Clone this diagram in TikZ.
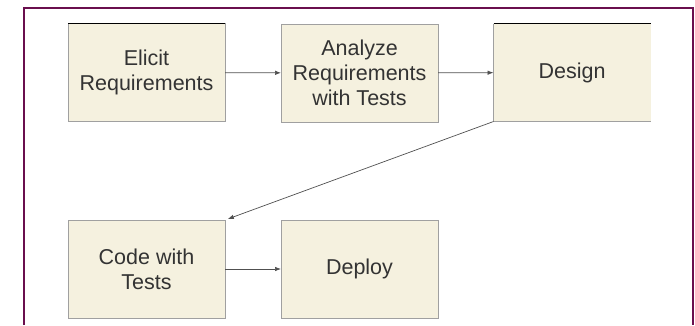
\documentclass[tikz,border=0pt]{standalone}
\usepackage{fontspec}
\setmainfont{Liberation Sans}
\usetikzlibrary{arrows.meta}
\definecolor{framec}{HTML}{6A0F4E}
\definecolor{boxfill}{HTML}{F5F1DF}
\definecolor{boxline}{HTML}{A0A0A0}
\definecolor{txt}{HTML}{333333}
\definecolor{arrc}{HTML}{505050}
\tikzset{
  stagebox/.style={fill=boxfill, draw=boxline, line width=1pt, minimum width=157pt, minimum height=98pt,
    inner sep=0pt, outer sep=0pt, align=center, text=txt, font=\fontsize{21.5}{25}\selectfont},
  arr/.style={draw=arrc, line width=0.7pt, -{Latex[length=6pt,width=4.5pt]}},
}
\begin{document}
\begin{tikzpicture}[x=1pt,y=-1pt]
\useasboundingbox (0,0) rectangle (695,325);
\fill[white] (0,0) rectangle (695,325);
% frame
\draw[framec, line width=2pt] (24,325) -- (24,8) -- (692.5,8) -- (692.5,325);
% boxes
\node[stagebox] (b1) at (146.5,72.5) {Elicit\\Requirements};
\node[stagebox] (b2) at (359.5,73) {Analyze\\Requirements\\with Tests};
\node[stagebox, draw=none] (b3) at (572,72.5) {Design};
\draw[boxline, line width=1pt] (b3.north west) -- (b3.south west) -- (b3.south east);
\draw[black, line width=0.8pt] (b1.north west) -- (b1.north east);
\draw[black, line width=0.8pt] (b3.north west) -- (b3.north east);
\node[stagebox] (b4) at (146.5,269) {Code with\\Tests};
\node[stagebox] (b5) at (359.5,269) {Deploy};
% connectors
\draw[arr] (b1) -- (b2);
\draw[arr] (b2) -- (b3);
\draw[arr, shorten >=3pt] (b3.south west) -- (b4.north east);
\draw[arr] (b4) -- (b5);
\end{tikzpicture}
\end{document}
